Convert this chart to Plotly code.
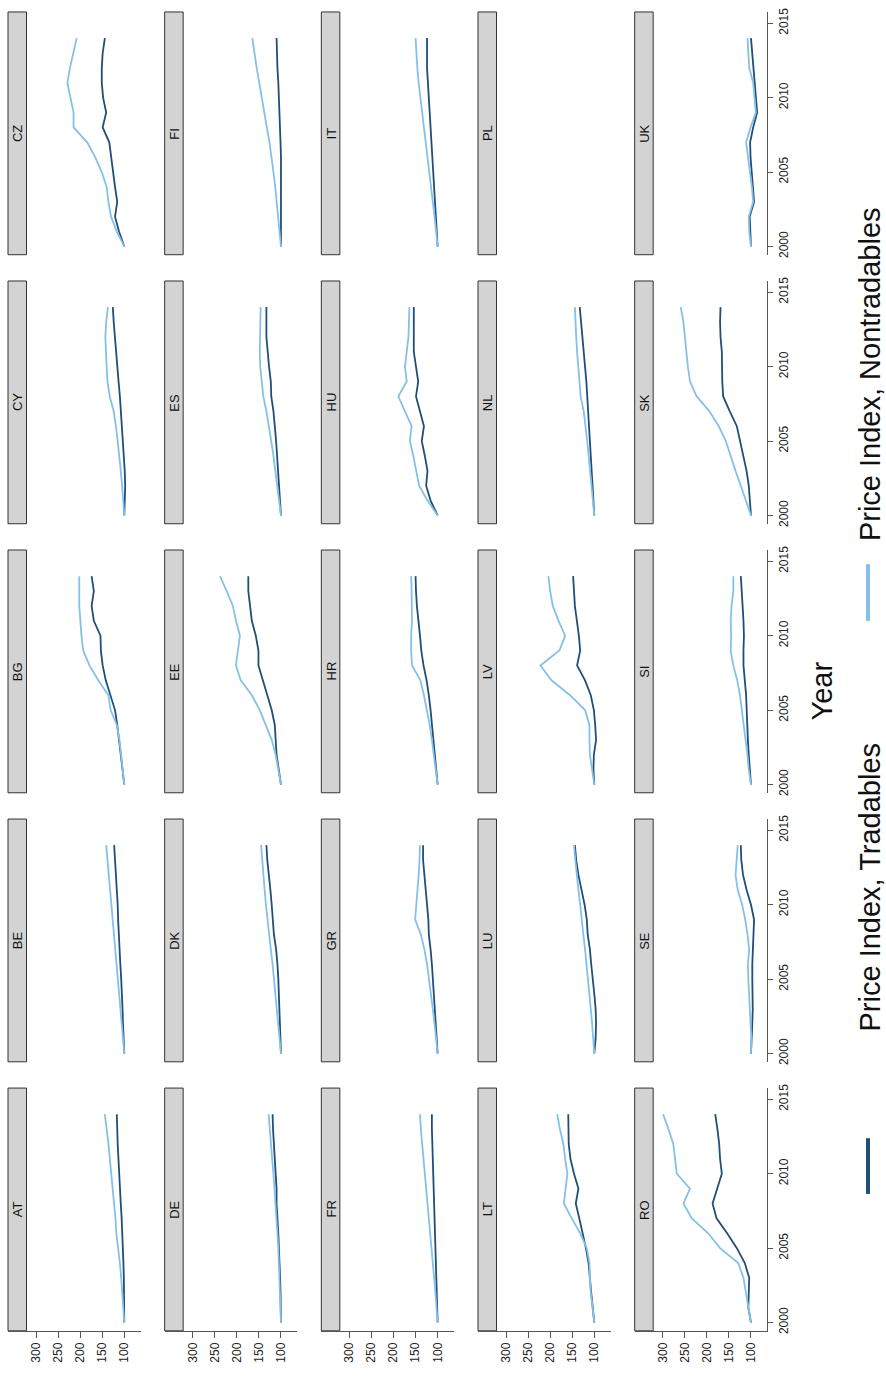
import plotly.graph_objects as go

# ---------------------------------------------------------------------------
# Price indices (2000 = 100), annual 2000-2014
# *_T = tradables, *_N = nontradables
# ---------------------------------------------------------------------------
YEARS = list(range(2000, 2015))

COUNTRIES = ["AT", "BE", "BG", "CY", "CZ",
             "DE", "DK", "EE", "ES", "FI",
             "FR", "GR", "HR", "HU", "IT",
             "LT", "LU", "LV", "NL", "PL",
             "RO", "SE", "SI", "SK", "UK"]

AT_T = [100, 100, 101, 101, 102, 103, 104, 106, 108, 110, 112, 114, 115, 116, 117]
AT_N = [100, 102, 105, 107, 110, 114, 118, 120, 123, 126, 129, 132, 136, 140, 144]
BE_T = [100, 102, 103, 104, 105, 107, 109, 111, 113, 114, 115, 117, 119, 121, 123]
BE_N = [100, 103, 106, 108, 111, 114, 117, 120, 124, 126, 129, 132, 135, 138, 141]
BG_T = [100, 104, 108, 111, 116, 121, 131, 142, 149, 153, 154, 169, 174, 169, 174]
BG_N = [100, 104, 108, 111, 117, 131, 136, 159, 179, 193, 197, 200, 202, 202, 202]
CY_T = [100, 99, 98, 99, 101, 103, 105, 107, 110, 113, 116, 119, 122, 124, 126]
CY_N = [100, 102, 105, 108, 111, 115, 119, 124, 133, 138, 140, 142, 143, 141, 137]
CZ_T = [100, 112, 121, 116, 121, 125, 129, 134, 149, 141, 148, 151, 151, 149, 144]
CZ_N = [100, 117, 130, 136, 140, 151, 166, 184, 215, 215, 222, 229, 223, 216, 208]
DE_T = [100, 100, 101, 102, 103, 104, 106, 108, 110, 110, 112, 115, 117, 118, 119]
DE_N = [100, 101, 102, 103, 104, 106, 108, 110, 113, 115, 117, 120, 123, 126, 128]
DK_T = [100, 101, 102, 103, 104, 106, 108, 111, 116, 118, 121, 124, 128, 131, 133]
DK_N = [100, 103, 106, 109, 112, 115, 119, 123, 127, 130, 134, 137, 140, 143, 145]
EE_T = [100, 105, 110, 112, 114, 121, 131, 142, 151, 151, 157, 166, 170, 174, 174]
EE_N = [100, 106, 112, 121, 134, 148, 166, 191, 202, 197, 193, 202, 209, 223, 238]
ES_T = [100, 102, 104, 106, 108, 111, 114, 117, 122, 123, 127, 130, 133, 133, 133]
ES_N = [100, 104, 108, 112, 117, 122, 127, 133, 140, 144, 147, 148, 147, 146, 146]
FI_T = [100, 100, 100, 99, 99, 99, 100, 101, 102, 103, 104, 106, 108, 109, 110]
FI_N = [100, 103, 106, 109, 113, 117, 121, 126, 132, 138, 143, 149, 155, 160, 165]
FR_T = [100, 101, 102, 103, 104, 105, 106, 107, 109, 109, 110, 111, 112, 113, 113]
FR_N = [100, 102, 105, 108, 111, 114, 117, 120, 124, 127, 129, 132, 135, 138, 140]
GR_T = [100, 102, 104, 106, 108, 110, 113, 116, 120, 121, 124, 127, 131, 133, 133]
GR_N = [100, 103, 107, 111, 115, 119, 124, 130, 138, 151, 148, 145, 143, 141, 140]
HR_T = [100, 103, 106, 109, 112, 116, 120, 125, 132, 137, 140, 144, 147, 149, 150]
HR_N = [100, 104, 108, 113, 118, 124, 131, 139, 158, 160, 160, 158, 158, 159, 160]
HU_T = [100, 116, 126, 123, 129, 136, 131, 140, 149, 144, 149, 154, 154, 154, 154]
HU_N = [100, 123, 142, 148, 155, 163, 159, 174, 189, 170, 174, 170, 166, 165, 164]
IT_T = [100, 102, 104, 106, 108, 110, 112, 114, 117, 118, 120, 122, 124, 124, 124]
IT_N = [100, 103, 107, 111, 115, 119, 123, 127, 132, 136, 139, 143, 146, 148, 150]
LT_T = [100, 104, 107, 110, 113, 119, 126, 134, 142, 136, 146, 154, 158, 159, 159]
LT_N = [100, 104, 108, 110, 111, 117, 132, 151, 169, 165, 161, 166, 170, 178, 184]
LU_T = [100, 97, 96, 97, 100, 104, 107, 110, 115, 117, 122, 129, 136, 141, 144]
LU_N = [100, 102, 105, 108, 111, 114, 117, 121, 125, 128, 132, 136, 140, 143, 146]
LV_T = [100, 102, 101, 96, 98, 101, 108, 121, 139, 132, 135, 140, 144, 146, 148]
LV_N = [100, 105, 110, 111, 111, 121, 155, 197, 222, 179, 166, 181, 194, 200, 204]
NL_T = [100, 102, 104, 105, 107, 109, 111, 113, 116, 118, 121, 124, 128, 131, 133]
NL_N = [100, 103, 107, 110, 113, 116, 120, 124, 131, 134, 137, 139, 141, 142, 144]
PL_T = []
PL_N = []
RO_T = [100, 106, 105, 104, 114, 132, 154, 178, 187, 176, 166, 170, 172, 176, 181]
RO_N = [100, 106, 112, 117, 129, 170, 197, 234, 253, 238, 268, 272, 276, 287, 299]
SE_T = [100, 98, 97, 96, 97, 97, 97, 96, 95, 93, 100, 110, 118, 122, 123]
SE_N = [100, 99, 101, 103, 104, 106, 107, 104, 108, 113, 120, 130, 135, 133, 130]
SI_T = [100, 103, 105, 107, 108, 109, 111, 114, 117, 117, 116, 117, 119, 121, 123]
SI_N = [100, 105, 108, 112, 116, 120, 125, 131, 140, 146, 145, 146, 144, 140, 140]
SK_T = [100, 102, 105, 110, 117, 125, 132, 148, 163, 165, 166, 166, 169, 170, 169]
SK_N = [100, 111, 123, 135, 146, 157, 173, 194, 223, 238, 243, 246, 249, 253, 259]
UK_T = [100, 101, 103, 93, 96, 99, 101, 102, 95, 86, 89, 91, 95, 97, 100]
UK_N = [100, 104, 105, 95, 98, 102, 106, 111, 101, 89, 92, 95, 104, 106, 108]

SERIES = {c: (globals()[c + "_T"], globals()[c + "_N"]) for c in COUNTRIES}

VALUE_TICKS = [100, 150, 200, 250, 300]
YEAR_TICKS = [2000, 2005, 2010, 2015]

COLOR_T = "#1f4e79"
COLOR_N = "#85c0e9"
AXIS_COLOR = "#555555"
STRIP_FILL = "#d3d3d3"
FONT = "Liberation Sans, Arial"

# ---------------------------------------------------------------------------
# Page geometry (pixels); the panel grid is laid out sideways
# ---------------------------------------------------------------------------
W, H = 886, 1378
ROW_X0, ROW_PITCH = 8.0, 156.67      # left edge of each row of panels
STRIP_W = 18.5                       # width of the grey title strip
PANEL_W = 132.7                      # strip + plotting area
PX_PER_UNIT = 0.4415                 # horizontal px per index point
X100 = 116.3                         # offset of value 100 from row edge
GRP_T0, GRP_PITCH, GRP_H = 8.0, 270.4, 244.0
Y2000 = 235.7                        # offset of year 2000 from group top
PX_PER_YEAR = 14.96

v_left = 100 + X100 / PX_PER_UNIT
v_right = 100 - (PANEL_W - X100) / PX_PER_UNIT
yr_top = 2000 + Y2000 / PX_PER_YEAR
yr_bot = 2000 - (GRP_H - Y2000) / PX_PER_YEAR


def px(x):
    return x / W


def py(y):
    return 1 - y / H


fig = go.Figure()
shapes, annotations = [], []
layout_axes = {}

for i, country in enumerate(COUNTRIES):
    r, c = divmod(i, 5)
    g = 4 - c
    x0 = ROW_X0 + r * ROW_PITCH
    top = GRP_T0 + g * GRP_PITCH
    bot = top + GRP_H
    n = i + 1
    xa = "x" if n == 1 else f"x{n}"
    ya = "y" if n == 1 else f"y{n}"
    xkey = "xaxis" if n == 1 else f"xaxis{n}"
    ykey = "yaxis" if n == 1 else f"yaxis{n}"

    trad, nontrad = SERIES[country]
    if trad:
        fig.add_trace(go.Scatter(x=trad, y=YEARS[:len(trad)], mode="lines",
                                 line=dict(color=COLOR_T, width=1.8),
                                 xaxis=xa, yaxis=ya, showlegend=False,
                                 hoverinfo="skip"))
    if nontrad:
        fig.add_trace(go.Scatter(x=nontrad, y=YEARS[:len(nontrad)], mode="lines",
                                 line=dict(color=COLOR_N, width=1.8),
                                 xaxis=xa, yaxis=ya, showlegend=False,
                                 hoverinfo="skip"))

    bottom_group = (g == 4)
    right_row = (r == 4)

    layout_axes[xkey] = dict(
        domain=[px(x0), px(x0 + PANEL_W)],
        range=[v_left, v_right],
        anchor=ya,
        showgrid=False, zeroline=False,
        showline=bottom_group, linecolor=AXIS_COLOR, linewidth=1,
        ticks="outside" if bottom_group else "",
        tickvals=VALUE_TICKS, ticklen=6, tickcolor=AXIS_COLOR,
        showticklabels=bottom_group, tickangle=-90,
        tickfont=dict(family=FONT, size=12, color="#222222"),
        fixedrange=True,
    )
    layout_axes[ykey] = dict(
        domain=[py(bot), py(top)],
        range=[yr_bot, yr_top],
        anchor=xa,
        side="right",
        showgrid=False, zeroline=False,
        showline=right_row, linecolor=AXIS_COLOR, linewidth=1,
        ticks="outside" if right_row else "",
        tickvals=YEAR_TICKS, ticklen=5, tickcolor=AXIS_COLOR,
        showticklabels=right_row, tickangle=-90,
        tickfont=dict(family=FONT, size=12, color="#222222"),
        fixedrange=True,
    )

    # grey title strip with the country code
    shapes.append(dict(type="rect", xref="paper", yref="paper",
                       x0=px(x0), x1=px(x0 + STRIP_W), y0=py(bot), y1=py(top),
                       fillcolor=STRIP_FILL, line=dict(color="#333333", width=1),
                       layer="below"))
    annotations.append(dict(xref="paper", yref="paper",
                            x=px(x0 + STRIP_W / 2 + 0.5), y=py((top + bot) / 2),
                            text=country, showarrow=False, textangle=-90,
                            xanchor="center", yanchor="middle",
                            font=dict(family=FONT, size=13, color="#111111")))

# axis title
annotations.append(dict(xref="paper", yref="paper", x=px(822), y=py(691),
                        text="Year", showarrow=False, textangle=-90,
                        xanchor="center", yanchor="middle",
                        font=dict(family=FONT, size=29, color="#111111")))

# legend keys
for color, y_a, y_b, label, y_text in [
    (COLOR_T, 1140, 1196, "Price Index, Tradables", 888),
    (COLOR_N, 563, 620, "Price Index, Nontradables", 372),
]:
    shapes.append(dict(type="line", xref="paper", yref="paper",
                       x0=px(868), x1=px(868), y0=py(y_a), y1=py(y_b),
                       line=dict(color=color, width=4)))
    annotations.append(dict(xref="paper", yref="paper", x=px(870), y=py(y_text),
                            text=label, showarrow=False, textangle=-90,
                            xanchor="center", yanchor="middle",
                            font=dict(family=FONT, size=29, color="#111111")))

fig.update_layout(
    width=W, height=H,
    margin=dict(l=0, r=0, t=0, b=0),
    paper_bgcolor="white", plot_bgcolor="white",
    showlegend=False,
    shapes=shapes, annotations=annotations,
    **layout_axes,
)

fig.write_html("out.html", config={"displayModeBar": False})
